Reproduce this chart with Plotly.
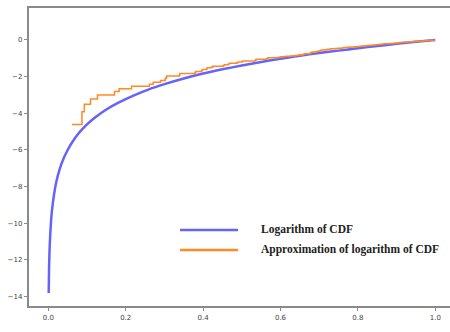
import numpy as np
import plotly.graph_objects as go

# Logarithm of the CDF, sampled along x
cdf_x = [0.001, 0.002, 0.003, 0.005, 0.007, 0.01, 0.015, 0.02, 0.03, 0.04, 0.05,
         0.06, 0.08, 0.10, 0.12, 0.15, 0.18, 0.22, 0.26, 0.30, 0.35, 0.40, 0.45,
         0.50, 0.55, 0.60, 0.65, 0.70, 0.75, 0.80, 0.85, 0.90, 0.95, 1.00]
cdf_log = [-13.8, -12.4, -11.6, -10.6, -9.9, -9.2, -8.4, -7.8, -7.0, -6.44, -6.0,
           -5.63, -5.05, -4.6, -4.24, -3.79, -3.43, -3.03, -2.69, -2.41, -2.1, -1.83, -1.6,
           -1.39, -1.2, -1.02, -0.86, -0.71, -0.58, -0.45, -0.33, -0.21, -0.10, 0.0]

# Sorted sample positions used for the empirical approximation
samples = [0.061, 0.087, 0.093, 0.109, 0.127, 0.171, 0.183, 0.215, 0.261, 0.271,
           0.290, 0.302, 0.304, 0.306, 0.339, 0.340, 0.379, 0.381, 0.396, 0.398,
           0.409, 0.411, 0.422, 0.425, 0.452, 0.455, 0.465, 0.468, 0.487, 0.490,
           0.501, 0.503, 0.534, 0.536, 0.538, 0.564, 0.566, 0.568, 0.594, 0.600,
           0.612, 0.625, 0.638, 0.647, 0.655, 0.659, 0.662, 0.676, 0.677, 0.679,
           0.680, 0.682, 0.690, 0.695, 0.700, 0.703, 0.705, 0.707, 0.715, 0.720,
           0.728, 0.732, 0.741, 0.748, 0.757, 0.763, 0.772, 0.781, 0.790, 0.800,
           0.806, 0.810, 0.816, 0.823, 0.831, 0.838, 0.846, 0.851, 0.857, 0.862,
           0.868, 0.875, 0.883, 0.891, 0.899, 0.905, 0.909, 0.914, 0.921, 0.928,
           0.936, 0.944, 0.948, 0.955, 0.962, 0.970, 0.978, 0.985, 0.992, 0.998]

x_ticks = [0.0, 0.2, 0.4, 0.6, 0.8, 1.0]
y_ticks = [-14, -12, -10, -8, -6, -4, -2, 0]
legend_labels = ["Logarithm of CDF", "Approximation of logarithm of CDF"]

blue = "#6464fa"
orange = "#ff8a24"

n = len(samples)
ecdf_log = np.log(np.arange(1, n + 1) / n)

fig = go.Figure()
fig.add_trace(go.Scatter(x=cdf_x, y=cdf_log, mode="lines",
                         line=dict(color=blue, width=2.5, shape="spline", smoothing=0.6),
                         name=legend_labels[0], showlegend=False))
fig.add_trace(go.Scatter(x=samples, y=ecdf_log, mode="lines",
                         line=dict(color=orange, width=1.5, shape="hv"),
                         name=legend_labels[1], showlegend=False))

# Hand-placed legend: line swatches and serif labels
L, R, T, B = 29, 0, 8, 26
W, H = 450, 332
pw, ph = W - L - R, H - T - B
def px(xp):
    return (xp - L) / pw
def py(yp):
    return (H - B - yp) / ph

for i, (col, yp) in enumerate([(blue, 230), (orange, 250)]):
    fig.add_shape(type="line", xref="paper", yref="paper",
                  x0=px(180), x1=px(238), y0=py(yp), y1=py(yp),
                  line=dict(color=col, width=2.5))
    fig.add_annotation(xref="paper", yref="paper", x=px(259), y=py(yp - 1),
                       text="<b>" + legend_labels[i] + "</b>", showarrow=False,
                       xanchor="left", yanchor="middle",
                       font=dict(family="Liberation Serif", size=11.5, color="#222"))

axis_common = dict(showgrid=False, zeroline=False, showline=True, linecolor="#8a8a8a",
                   linewidth=1.5, ticks="outside", ticklen=3.5, tickwidth=1,
                   tickcolor="#8a8a8a",
                   tickfont=dict(family="DejaVu Sans", size=7, color="#444"))

fig.update_layout(
    width=W, height=H,
    margin=dict(l=L, r=R, t=T, b=B),
    paper_bgcolor="white", plot_bgcolor="white",
    xaxis=dict(range=[-0.0499, 1.038], tickvals=x_ticks, tickformat=".1f",
               mirror=True, **axis_common),
    yaxis=dict(range=[-14.51, 1.745], tickvals=y_ticks, tickformat="d",
               mirror=False, **axis_common),
)

fig.write_html("out.html")
